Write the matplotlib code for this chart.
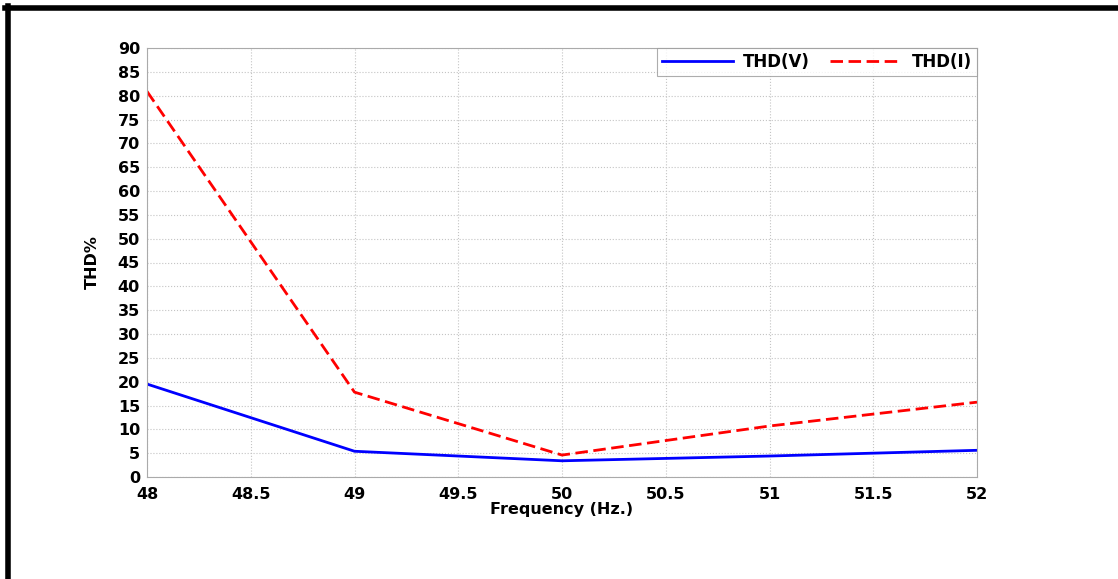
import matplotlib.pyplot as plt
from matplotlib.lines import Line2D

plt.rcParams['font.family'] = ['DejaVu Sans']
plt.rcParams['font.weight'] = 'bold'

freq = [48, 49, 50, 51, 52]
thd_v = [19.5, 5.4, 3.4, 4.4, 5.6]
thd_i = [80.9, 17.8, 4.6, 10.7, 15.7]

fig = plt.figure(figsize=(11.18, 5.79), dpi=100)
ax = fig.add_axes([147/1118, 1 - 477/579, (977-147)/1118, (477-48)/579])

ax.plot(freq, thd_v, color='#0000ff', lw=2, label='THD(V)')
ax.plot(freq, thd_i, color='#ff0000', lw=2, ls=(0, (4.5, 2)), label='THD(I)')

ax.set_xlim(48, 52)
ax.set_ylim(0, 90)
ax.set_xticks([48, 48.5, 49, 49.5, 50, 50.5, 51, 51.5, 52])
ax.set_xticklabels(['48', '48.5', '49', '49.5', '50', '50.5', '51', '51.5', '52'])
ax.set_yticks(range(0, 91, 5))
ax.tick_params(labelsize=11.5, length=0)
ax.tick_params(axis='x', pad=7)
ax.tick_params(axis='y', pad=5)
for lab in ax.get_xticklabels() + ax.get_yticklabels():
    lab.set_fontweight('bold')
ax.grid(True, color='#c4c4c4', ls=':', lw=0.8)
for s in ax.spines.values():
    s.set_color('#aaaaaa')

ax.set_xlabel('Frequency (Hz.)', fontsize=11.5, fontweight='bold', labelpad=0)
ax.set_ylabel('THD%', fontsize=11.5, fontweight='bold', labelpad=13)

leg = ax.legend(loc='upper right', ncol=2, fontsize=12, frameon=True,
                fancybox=False, borderaxespad=0, handlelength=4.3,
                handletextpad=0.6, columnspacing=1.2, borderpad=0.3)
leg.get_frame().set_edgecolor('#999999')
leg.get_frame().set_linewidth(0.8)
for t in leg.get_texts():
    t.set_fontweight('bold')

# black frame on top and left
fig.add_artist(Line2D([5/1118, 1], [1 - 8/579, 1 - 8/579], color='black', lw=4))
fig.add_artist(Line2D([8/1118, 8/1118], [0, 1 - 6/579], color='black', lw=4))

fig.savefig('out.png', dpi=100)
